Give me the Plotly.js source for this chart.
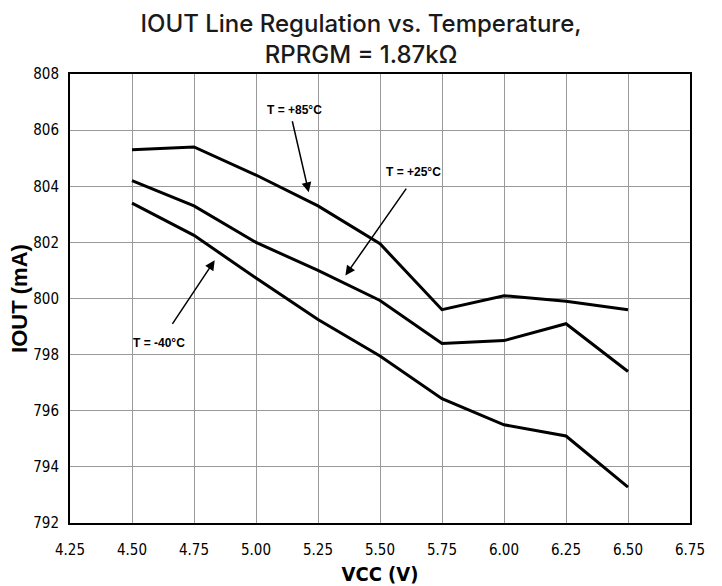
<!DOCTYPE html>
<html>
<head>
<meta charset="utf-8">
<script src="https://cdn.plot.ly/plotly-3.0.1.min.js"></script>
<style>html,body{margin:0;padding:0;background:#fff;}#chart{width:722px;height:586px;}</style>
</head>
<body>
<div id="chart"></div>
<script>
var vcc = [4.50, 4.75, 5.00, 5.25, 5.50, 5.75, 6.00, 6.25, 6.50];
var iout85 = [805.3, 805.4, 804.4, 803.3, 801.95, 799.6, 800.1, 799.9, 799.6];
var iout25 = [804.2, 803.3, 802.0, 801.0, 799.93, 798.4, 798.5, 799.1, 797.4];
var iout40 = [803.4, 802.25, 800.73, 799.25, 797.95, 796.43, 795.5, 795.1, 793.28];
var xTicks = [4.25, 4.50, 4.75, 5.00, 5.25, 5.50, 5.75, 6.00, 6.25, 6.50, 6.75];
var xTickLabels = ["4.25","4.50","4.75","5.00","5.25","5.50","5.75","6.00","6.25","6.50","6.75"];
var yTicks = [792, 794, 796, 798, 800, 802, 804, 806, 808];
var labels = ["T = +85°C", "T = +25°C", "T = -40°C"];
var titleText = "IOUT Line Regulation vs. Temperature,<br>RPRGM = 1.87kΩ";

var narrow = '"Liberation Sans Narrow", "DejaVu Sans Condensed", Arial, sans-serif';
var arial = '"Liberation Sans", Arial, sans-serif';
var line = {color: '#000', width: 3};

var traces = [
  {x: vcc, y: iout85, mode: 'lines', line: line, hoverinfo: 'none'},
  {x: vcc, y: iout25, mode: 'lines', line: line, hoverinfo: 'none'},
  {x: vcc, y: iout40, mode: 'lines', line: line, hoverinfo: 'none'}
];

function arrow(xh, yh, xt, yt) {
  return {x: xh, y: yh, ax: xt, ay: yt, xref: 'x', yref: 'y', axref: 'x', ayref: 'y',
    text: '', showarrow: true, arrowhead: 2, arrowsize: 1.3, arrowwidth: 1.5, arrowcolor: '#000', standoff: 0, startstandoff: 0};
}
function label(x, y, t) {
  return {x: x, y: y, xref: 'x', yref: 'y', text: '<b>' + t + '</b>', showarrow: false,
    font: {family: arial, size: 12, color: '#000'}};
}

var layout = {
  width: 722, height: 586,
  margin: {l: 70, r: 32, t: 74, b: 63},
  paper_bgcolor: '#fff', plot_bgcolor: '#fff',
  showlegend: false,
  title: {text: titleText, x: 0.5, xanchor: 'center',
    yref: 'container', y: 0.946, yanchor: 'middle',
    font: {family: 'Inter, "DejaVu Sans Condensed", sans-serif', size: 24, color: '#1a1a1a', weight: 500}},
  xaxis: {range: [4.25, 6.75], tickvals: xTicks, ticktext: xTickLabels, showgrid: true, gridcolor: '#999', gridwidth: 1,
    zeroline: false, showline: true, linecolor: '#000', linewidth: 2, mirror: true, ticks: '', ticklabelstandoff: 12,
    tickfont: {family: narrow, size: 15, color: '#000'},
    title: {text: '<b>VCC (V)</b>', font: {family: narrow, size: 20, color: '#000'}, standoff: 9}},
  yaxis: {range: [792, 808], tickvals: yTicks, showgrid: true, gridcolor: '#999', gridwidth: 1,
    zeroline: false, showline: true, linecolor: '#000', linewidth: 2, mirror: true, ticks: '', ticklabelstandoff: 6,
    tickfont: {family: narrow, size: 15, color: '#000'},
    title: {text: '<b>IOUT (mA)</b>', font: {family: arial, size: 22, color: '#000'}, standoff: 0}},
  annotations: [
    arrow(5.2125, 803.79, 5.145, 806.37),
    label(5.155, 806.70, labels[0]),
    arrow(5.3605, 800.82, 5.610, 803.97),
    label(5.637, 804.50, labels[1]),
    arrow(4.8335, 801.36, 4.659, 799.04),
    label(4.608, 798.43, labels[2])
  ]
};

Plotly.newPlot('chart', traces, layout, {displayModeBar: false, staticPlot: true});
</script>
</body>
</html>
